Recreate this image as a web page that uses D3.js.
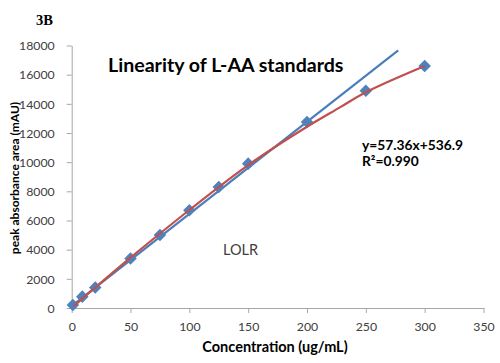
<!DOCTYPE html>
<html>
<head>
<meta charset="utf-8">
<script src="https://cdn.jsdelivr.net/npm/d3@7"></script>
<style>
  body { margin: 0; background: #fff; }
  svg { display: block; }
</style>
</head>
<body>
<svg id="chart" width="500" height="363"></svg>
<script>
// standards
var conc = [1, 9, 20, 50, 75, 100, 125, 150, 200, 250, 300];
var area = [200, 780, 1400, 3400, 5000, 6700, 8300, 9900, 12760, 14900, 16600];
// blue straight line (linear range), end points
var linearLine = [[1, 200], [277.5, 17670]];
// red trend curve, sampled off the figure
var trendConc = [2, 50, 100, 150, 200, 228, 250, 300];
var trendArea = [150, 3450, 6720, 9800, 12430, 13760, 14800, 16600];
var xTicks = [0, 50, 100, 150, 200, 250, 300, 350];
var yTicks = [0, 2000, 4000, 6000, 8000, 10000, 12000, 14000, 16000, 18000];
var equationLines = ["y=57.36x+536.9", "R\u00b2=0.990"];

var svg = d3.select("#chart");
var font = "Lato, 'Open Sans', sans-serif";

var x = d3.scaleLinear().domain([0, 350]).range([71.7, 483.5]);
var y = d3.scaleLinear().domain([0, 18000]).range([308, 45.5]);

// axes
var xAxis = d3.axisBottom(x).tickValues(xTicks).tickSize(5).tickSizeOuter(0).tickFormat(d3.format("d"));
var yAxis = d3.axisLeft(y).tickValues(yTicks).tickSize(5).tickSizeOuter(0).tickFormat(d3.format("d"));

var gx = svg.append("g").attr("transform", "translate(0,308)").call(xAxis);
var gy = svg.append("g").attr("transform", "translate(71.7,0)").call(yAxis);

[gx, gy].forEach(function(g) {
    g.selectAll(".domain, line").attr("stroke", "#a6a6a6");
    g.selectAll("text")
        .attr("font-family", font)
        .attr("font-size", 12.3)
        .attr("fill", "#404040");
});
gx.selectAll("text").attr("dy", "1.25em");
gy.selectAll("text").attr("x", -17).attr("dy", "0.35em");

var line = d3.line()
    .x(function(d) { return x(d[0]); })
    .y(function(d) { return y(d[1]); });

svg.append("path")
    .datum(linearLine)
    .attr("d", line)
    .attr("fill", "none")
    .attr("stroke", "#4a7ebb")
    .attr("stroke-width", 2.2);

var pts = conc.map(function(c, i) { return [c, area[i]]; });

svg.selectAll(".pt")
    .data(pts)
    .enter().append("path")
    .attr("class", "pt")
    .attr("d", d3.symbol().type(d3.symbolDiamond2).size(100))
    .attr("transform", function(d) { return "translate(" + x(d[0]) + "," + y(d[1]) + ")"; })
    .attr("fill", "#4f81bd");

var trendPts = trendConc.map(function(c, i) { return [c, trendArea[i]]; });

svg.append("path")
    .datum(trendPts)
    .attr("d", line.curve(d3.curveCatmullRom))
    .attr("fill", "none")
    .attr("stroke", "#c0504d")
    .attr("stroke-width", 2.2);

// texts
svg.append("text")
    .attr("x", 36).attr("y", 25)
    .attr("font-family", "'Liberation Serif', 'Times New Roman', serif")
    .attr("font-weight", "bold")
    .attr("font-size", 14.5)
    .text("3B");

svg.append("text")
    .attr("x", 108).attr("y", 72)
    .attr("font-family", font)
    .attr("font-weight", "bold")
    .attr("font-size", 19.6)
    .attr("fill", "#000")
    .text("Linearity of L-AA standards");

svg.selectAll(".eq")
    .data(equationLines)
    .enter().append("text")
    .attr("class", "eq")
    .attr("x", 362)
    .attr("y", function(d, i) { return 150 + i * 15.5; })
    .attr("font-family", font)
    .attr("font-weight", "bold")
    .attr("font-size", 13.8)
    .text(function(d) { return d; });

svg.append("text")
    .attr("x", 223).attr("y", 255)
    .attr("font-family", font)
    .attr("font-size", 14.5)
    .attr("fill", "#404040")
    .text("LOLR");

svg.append("text")
    .attr("x", 275).attr("y", 352)
    .attr("text-anchor", "middle")
    .attr("font-family", font)
    .attr("font-weight", "bold")
    .attr("font-size", 14.5)
    .text("Concentration (ug/mL)");

svg.append("text")
    .attr("transform", "translate(19,178) rotate(-90)")
    .attr("text-anchor", "middle")
    .attr("font-family", font)
    .attr("font-weight", "bold")
    .attr("font-size", 12)
    .text("peak absorbance area (mAU)");
</script>
</body>
</html>
